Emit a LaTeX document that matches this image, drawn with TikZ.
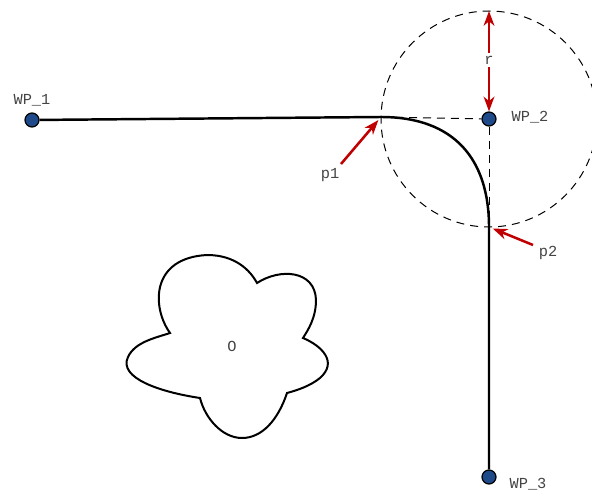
\documentclass[tikz,border=0pt]{standalone}
\usepackage{fontspec}
\setmonofont{Liberation Mono}
\usetikzlibrary{arrows.meta}
\definecolor{wpblue}{HTML}{1F4A8A}
\definecolor{arrred}{HTML}{C00000}
\definecolor{txt}{HTML}{444444}
\begin{document}
\begin{tikzpicture}[x=0.75pt,y=-0.75pt,
  wp/.style={circle,draw=black,fill=wpblue,line width=0.9pt,minimum size=10.5pt,inner sep=0pt},
  lbl/.style={font=\ttfamily\fontsize{11.5}{12}\selectfont,text=txt,inner sep=1pt},
  path/.style={line width=1.85pt,black},
  guide/.style={line width=0.75pt,dash pattern=on 6pt off 4.5pt},
  redarr/.style={line width=1.9pt,arrred,-{Stealth[length=11pt,width=8pt,inset=3.3pt]}}]
\useasboundingbox (0,0) rectangle (592,491);
\clip (0,0) rectangle (592,491);
% coordinates
\coordinate (p1) at (381,117);
\coordinate (p2) at (489,227);
\coordinate (ctop) at (489,11);
% nodes
\node[wp] (wp1) at (32,120) {};
\node[wp] (wp2) at (489,119) {};
\node[wp] (wp3) at (489,477) {};
% guides
\draw[guide] (wp2.center) circle[radius=81pt];
\draw[guide] (p1) -- (wp2);
\draw[guide] (wp2) -- (p2);
% path
\draw[path] (wp1) -- (p1) .. controls (455,117) and (489,160) .. (p2) -- (wp3);
% labels
\node[lbl] (l1) at (32,100) {WP\_1};
\node[lbl,anchor=west] (l2) at (510,117) {WP\_2};
\node[lbl,anchor=west] (l3) at (508,484) {WP\_3};
\node[lbl] (lp1) at (330,175) {p1};
\node[lbl] (lp2) at (548,253) {p2};
% red arrows
\draw[redarr,{Stealth[length=11pt,width=8pt,inset=3.3pt]}-{Stealth[length=11pt,width=8pt,inset=3.3pt]}] (ctop) -- (wp2);
\node[lbl,fill=white,inner sep=2pt] (lr) at (489,60) {r};
\coordinate (a1) at (341,164);
\coordinate (a2) at (533,245);
\draw[redarr,shorten >=3pt] (a1) -- (p1);
\draw[redarr,shorten >=3pt] (a2) -- (p2);
% obstacle
\draw[line width=1.5pt] (170,333) .. controls (152,308) and (150,258) .. (207,255)
  .. controls (235,255) and (250,270) .. (257,283)
  .. controls (280,268) and (315,270) .. (316,300)
  .. controls (316,318) and (308,330) .. (303,338)
  .. controls (322,346) and (338,362) .. (320,378)
  .. controls (310,386) and (298,390) .. (287,393)
  .. controls (278,420) and (262,438) .. (242,438)
  .. controls (222,438) and (205,418) .. (200,398)
  .. controls (160,392) and (118,378) .. (128,357)
  .. controls (135,342) and (155,338) .. (170,333) -- cycle;
\node[lbl] (o) at (232,346) {O};
\end{tikzpicture}
\end{document}
